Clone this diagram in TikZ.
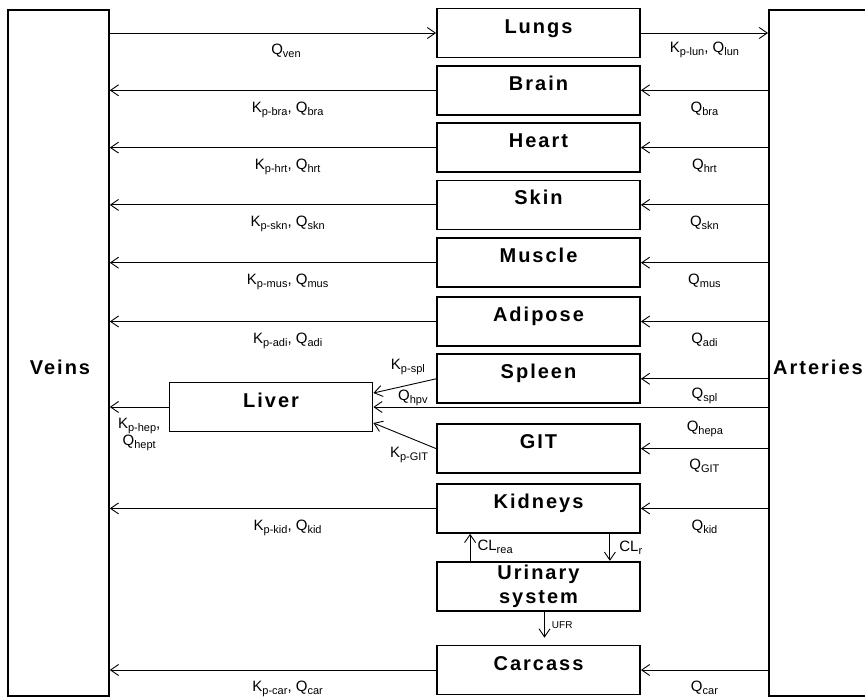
\documentclass[tikz,border=0pt]{standalone}
\usepackage{fontspec}
\setmainfont{Liberation Sans}
\newfontfamily\organfont[LetterSpace=10]{Liberation Sans}
\usetikzlibrary{arrows.meta,positioning}

\newcommand{\sbs}[1]{\raisebox{-3pt}{\fontsize{11}{11}\selectfont #1}}

\begin{document}
\begin{tikzpicture}[
    x=1pt, y=-1pt,
    every node/.style={align=center},
    vessel/.style={rectangle, draw, line width=1.8pt, minimum height=686pt, anchor=north west},
    organ/.style={rectangle, draw, line width=1.8pt, minimum width=203pt, minimum height=49pt, font=\organfont\bfseries\fontsize{20}{24}\selectfont, text height=15pt, text depth=15pt},
    bigtext/.style={font=\organfont\bfseries\fontsize{20}{24}\selectfont},
    flow/.style={-{Straight Barb[length=8pt,width=11pt]}, line width=0.9pt},
    lab/.style={font=\fontsize{15}{17}\selectfont, inner sep=1pt},
    small/.style={font=\fontsize{10}{12}\selectfont, inner sep=1pt}
]
\useasboundingbox (0,0) rectangle (865,697);
\clip (0,0) rectangle (865,697);

% blood pools
\node[vessel, minimum width=101pt] (veins) at (7,9) {};
\node[vessel, minimum width=130pt] (arteries) at (768,9) {};
\node[bigtext] (veinstext) at (60,367) {Veins};
\node[bigtext] (arteriestext) at (818,367) {Arteries};

% organ column
\node[organ] (lungs) at (538.5,33) {Lungs};
\node[organ, below=6.5pt of lungs] (brain) {Brain};
\node[organ, below=6.5pt of brain] (heart) {Heart};
\node[organ, below=6.5pt of heart] (skin) {Skin};
\node[organ, below=7pt of skin] (muscle) {Muscle};
\node[organ, below=8pt of muscle] (adipose) {Adipose};
\node[organ, below=6.5pt of adipose] (spleen) {Spleen};
\node[organ, below=19pt of spleen] (git) {GIT};
\node[organ, below=9pt of git] (kidneys) {Kidneys};
\node[organ, below=27pt of kidneys, text height={}, text depth={}, inner ysep=0pt] (urinary) {Urinary\\system};
\node[organ, below=33pt of urinary] (carcass) {Carcass};
\node[organ] (liver) at (271,407) {Liver};

% lungs
\draw[flow] (veins.east |- lungs) -- (lungs) node[lab, pos=.54, below=10pt] {Q\sbs{ven}};
\draw[flow] (lungs) -- (arteries.west |- lungs) node[lab, midway, below=8pt] {K\sbs{p-lun}, Q\sbs{lun}};

% organs between arteries and veins
\foreach \tis/\ab in {brain/bra, heart/hrt, skin/skn, muscle/mus, adipose/adi, kidneys/kid, carcass/car} {
    \draw[flow] (arteries.west |- \tis) -- (\tis) node[lab, midway, below=10pt] {Q\sbs{\ab}};
    \draw[flow] (\tis) -- (veins.east |- \tis) node[lab, pos=.455, below=10pt] {K\sbs{p-\ab}, Q\sbs{\ab}};
}

% splanchnic organs and liver
\draw[flow] (arteries.west |- spleen) -- (spleen) node[lab, midway, below=8pt] {Q\sbs{spl}};
\draw[flow] (arteries.west |- git) -- (git) node[lab, midway, below=9pt] {Q\sbs{GIT}};
\draw[flow] (spleen.west) -- ([yshift=14pt]liver.east) node[lab, pos=.45, above=9pt] {K\sbs{p-spl}};
\draw[flow] (git.west) -- ([yshift=-16pt]liver.east) node[lab, pos=.43, below=8pt] {K\sbs{p-GIT}};
\draw[flow] (arteries.west |- liver) -- (liver)
    node[lab, pos=.9, above=0pt] {Q\sbs{hpv}}
    node[lab, pos=.16, below=13pt] {Q\sbs{hepa}};
\draw[flow] (liver) -- (veins.east |- liver) node[lab, midway, below=10pt] {K\sbs{p-hep},\\Q\sbs{hept}};

% kidneys and urine
\draw[flow] ([xshift=34pt]urinary.north west) -- ([xshift=34pt]kidneys.south west) node[lab, midway, right=6pt] {CL\sbs{rea}};
\draw[flow] ([xshift=-31pt]kidneys.south east) -- ([xshift=-31pt]urinary.north east) node[lab, midway, right=8pt] {CL\sbs{r}};
\draw[flow] ([xshift=6pt]urinary.south) -- ([xshift=6pt,yshift=7pt]carcass.north) node[small, midway, right=6pt] {UFR};

\end{tikzpicture}
\end{document}
